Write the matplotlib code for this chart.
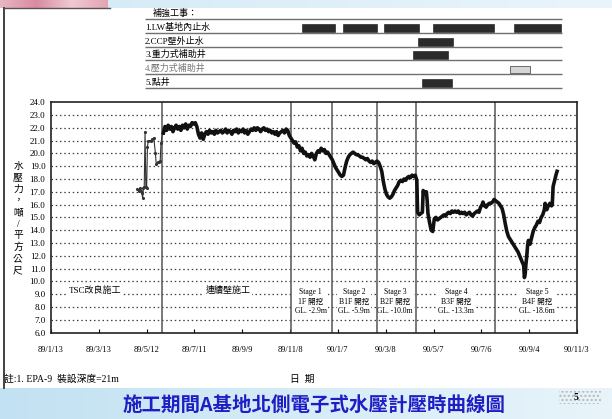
import numpy as np
import matplotlib.pyplot as plt
from matplotlib.patches import Rectangle

plt.rcParams['font.family'] = ['Liberation Serif', 'Noto Sans CJK TC']

# x axis is counted in days from 89/1/13
tick_days = list(range(0, 661, 60))
tick_labels = ['89/1/13', '89/3/13', '89/5/12', '89/7/11', '89/9/9', '89/11/8',
               '90/1/7', '90/3/8', '90/5/7', '90/7/6', '90/9/4', '90/11/3']

# first readings (sparse, during TSC work)
early_days = [108, 110, 112, 113, 114, 115, 116, 117, 118, 119, 120, 121, 122,
              125, 127, 129, 131, 132, 134, 136, 137, 138, 140]
early_p = [17.2, 17.1, 17.3, 17.1, 16.9, 16.5, 17.3, 17.4, 21.7, 17.4, 17.3, 20.5,
           21.0, 21.0, 21.1, 21.2, 20.0, 19.2, 19.3, 19.3, 19.4, 20.8, 21.6]

# continuous readings
days = [141, 143, 145, 147, 149, 151, 153, 155, 157, 159, 161, 163, 165, 167, 169,
        171, 173, 175, 177, 179, 181, 183, 185, 187, 189, 191, 193, 195, 197, 199,
        201, 203, 205, 207, 209, 211, 213, 215, 217, 219, 221, 223, 225, 227, 229,
        231, 233, 235, 237, 239, 241, 243, 245, 247, 249, 251, 253, 255, 257, 259,
        261, 263, 265, 267, 269, 271, 273, 275, 277, 279, 281, 283, 285, 287, 289,
        291, 293, 295, 297, 299, 301, 303, 305, 307, 309, 311, 313, 315, 317, 319,
        321, 323, 325, 327, 329, 331, 333, 335, 337, 339, 341, 343, 345, 347, 349,
        351, 353, 355, 357, 359, 361, 363, 365, 367, 369, 371, 373, 375, 377, 379,
        381, 383, 385, 387, 389, 391, 393, 395, 397, 399, 401, 403, 405, 407, 409,
        411, 413, 415, 417, 419, 421, 423, 425, 427, 429, 431, 433, 435, 437, 439,
        441, 443, 445, 447, 449, 451, 453, 455, 457, 459, 460, 462, 464, 466, 467,
        469, 471, 472, 473, 475, 477, 479, 481, 483, 485, 487, 489, 491, 493, 495,
        497, 499, 501, 503, 505, 507, 509, 511, 513, 515, 517, 519, 521, 523, 525,
        527, 529, 531, 533, 535, 537, 539, 541, 542, 544, 546, 548, 550, 552, 554,
        556, 558, 560, 562, 564, 566, 568, 570, 572, 574, 576, 578, 580, 582, 584,
        586, 588, 590, 592, 593, 594, 595, 596, 597, 598, 599, 600, 601, 603, 605,
        607, 609, 611, 613, 615, 617, 619, 620, 621, 622, 624, 626, 628, 629, 630,
        632, 634, 635]
pressure = [21.6, 22.1, 21.8, 22.2, 21.9, 22.1, 21.7, 22.0, 22.2, 21.9, 22.1, 21.8,
            22.2, 22.0, 22.3, 21.9, 22.2, 22.1, 22.4, 22.3, 22.4, 22.1, 21.5, 21.2,
            21.6, 21.1, 21.5, 21.7, 21.5, 21.8, 21.6, 21.7, 21.5, 21.8, 21.6, 21.7,
            21.8, 21.6, 21.7, 21.9, 21.6, 21.8, 21.7, 21.5, 21.8, 21.7, 21.9, 21.6,
            21.8, 21.7, 21.9, 21.6, 21.8, 21.5, 21.7, 21.9, 21.8, 22.0, 21.8, 22.0,
            21.9, 21.7, 21.9, 22.0, 21.8, 21.9, 21.7, 21.8, 21.6, 21.7, 21.5, 21.7,
            21.4, 21.6, 21.7, 21.8, 21.6, 21.9, 21.8, 21.4, 21.2, 21.0, 20.8, 20.9,
            20.5, 20.6, 20.2, 20.4, 20.0, 20.1, 19.8, 19.9, 19.7, 20.0, 19.8, 19.5,
            20.0, 20.2, 20.1, 20.4, 20.2, 20.3, 20.0, 20.1, 19.9, 19.7, 19.5, 19.2,
            18.9, 18.7, 18.5, 18.3, 18.2, 18.3, 18.9, 19.4, 19.7, 19.9, 20.0, 20.1,
            20.0, 19.9, 19.9, 19.8, 19.7, 19.7, 19.6, 19.5, 19.6, 19.4, 19.3, 19.4,
            19.2, 19.3, 19.4, 19.3, 19.0, 18.6, 17.8, 17.2, 16.8, 16.6, 16.5, 16.6,
            16.8, 17.1, 17.3, 17.5, 17.8, 17.9, 17.8, 18.0, 17.9, 18.1, 18.2, 18.1,
            18.3, 18.2, 18.3, 17.9, 15.4, 15.2, 15.3, 15.4, 17.1, 16.9, 17.0, 16.3,
            15.3, 14.6, 14.0, 13.9, 14.9, 15.0, 14.8, 14.9, 15.0, 15.1, 15.2, 15.1,
            15.3, 15.4, 15.3, 15.5, 15.4, 15.5, 15.4, 15.5, 15.3, 15.4, 15.3, 15.4,
            15.2, 15.3, 15.4, 15.2, 15.1, 15.3, 15.4, 15.5, 15.4, 15.8, 16.0, 16.2,
            15.9, 15.8, 16.0, 16.1, 16.1, 16.2, 16.4, 16.3, 16.2, 16.1, 15.9, 15.7,
            15.2, 14.5, 13.9, 13.5, 13.3, 13.1, 12.9, 12.7, 12.5, 12.3, 12.0, 11.7,
            11.4, 11.3, 10.3, 10.6, 11.4, 12.0, 12.8, 13.2, 13.0, 12.9, 13.4, 13.9,
            14.2, 14.4, 14.7, 14.6, 15.0, 15.2, 15.6, 16.1, 15.8, 15.6, 15.9, 16.1,
            15.9, 16.0, 17.4, 17.9, 18.4, 18.6]

stage_lines = [139, 301, 353, 409, 458, 557]
stage_pos = [326, 380, 432, 508, 610]
stage_text = ['Stage 1\n1F 開挖\nGL. -2.9m',
              'Stage 2\nB1F 開挖\nGL. -5.9m',
              'Stage 3\nB2F 開挖\nGL. -10.0m',
              'Stage 4\nB3F 開挖\nGL. -13.3m',
              'Stage 5\nB4F 開挖\nGL. -18.6m']

works = ['1.LW基地內止水', '2.CCP壁外止水', '3.重力式補助井', '4.壓力式補助井', '5.點井']
work_spans = [[(315, 356), (366, 409), (418, 462), (479, 556), (581, 640)],
              [(460, 504)],
              [(454, 498)],
              [(576, 601)],
              [(466, 503)]]

W, H = 612, 419
fig = plt.figure(figsize=(W / 100, H / 100), dpi=100)
fig.patch.set_facecolor('white')

# background in pixel units
bg = fig.add_axes([0, 0, 1, 1], zorder=-5)
bg.set_xlim(0, W)
bg.set_ylim(H, 0)
bg.axis('off')
grad = np.linspace(0, 1, 256)[None, :]
top_cmap = plt.matplotlib.colors.LinearSegmentedColormap.from_list('t', ['#d3e9f5', '#eaf5fb'])
bg.imshow(grad, extent=(0, W, 8, 0), cmap=top_cmap, aspect='auto')
pink = plt.matplotlib.colors.LinearSegmentedColormap.from_list('p', ['#e9b7c3', '#d88c9f', '#f0c9d2', '#e2a4b3'])
bg.imshow(grad, extent=(0, 108, 8, 0), cmap=pink, aspect='auto')
bot_cmap = plt.matplotlib.colors.LinearSegmentedColormap.from_list('b', ['#c2e1f2', '#d6ecf7', '#e8f4fa'])
bg.imshow(grad, extent=(0, W, H, 388), cmap=bot_cmap, aspect='auto')
bg.plot([3.5, 3.5], [8, 388], color='#333333', lw=1.3)
bg.plot([3.5, 110], [8.5, 8.5], color='#555555', lw=1.0)

bg.text(314, 406, '施工期間A基地北側電子式水壓計壓時曲線圖', ha='center', va='center',
        fontsize=14, color='#1e1ec4', fontweight='bold', family=['Noto Sans CJK TC'])
bg.add_patch(Rectangle((559, 391), 42, 13, facecolor='none', edgecolor='#b8b8b8',
                       hatch='....', lw=0))
bg.text(576, 397.5, '5', ha='center', va='center', fontsize=7, fontweight='bold')

bg.text(4, 379, '註:1. EPA-9  裝設深度=21m', va='center', fontsize=7)
bg.text(290, 379, '日  期', va='center', fontsize=7)

ylab = ['水', '壓', '力', '，', '噸', '/', '平', '方', '公', '尺']
for i, ch in enumerate(ylab):
    bg.text(18, 166 + i * 11.6, ch, ha='center', va='center', fontsize=7)

# main chart
ax = fig.add_axes([51 / W, (H - 332.6) / H, 526 / W, 230.4 / H])
ax.set_xlim(0, 660)
ax.set_ylim(6, 24)
for v in range(7, 24):
    ax.axhline(v, ls=(0, (1.2, 2.2)), color='#404040', lw=0.9, zorder=0.5)
for d in stage_lines:
    ax.axvline(d, color='#555555', lw=1.1, zorder=2)

ax.plot(early_days, early_p, color='#333333', lw=0.8, marker='.', ms=2.5, zorder=3)
ax.plot(days, pressure, color='#111111', lw=2.6, solid_joinstyle='round', zorder=3)

box = dict(facecolor='white', edgecolor='none', pad=1)
for d, txt in zip(stage_pos, stage_text):
    ax.text(d, 8.4, txt, ha='center', va='center', fontsize=5.5, linespacing=1.25,
            bbox=box, zorder=1)
ax.text(55, 9.25, 'TSC改良施工', ha='center', va='center', fontsize=6.5, bbox=box, zorder=1)
ax.text(222, 9.3, '連續壁施工', ha='center', va='center', fontsize=6.5, bbox=box, zorder=1)

ax.set_yticks(np.arange(6, 25, 1))
ax.set_yticklabels([f'{v:.1f}' for v in np.arange(6, 25, 1)], fontsize=6.5)
ax.set_xticks(tick_days)
ax.set_xticklabels(tick_labels, fontsize=6)
ax.tick_params(axis='y', direction='in', length=0, pad=4)
ax.tick_params(axis='x', direction='in', length=3, pad=10)
for s in ax.spines.values():
    s.set_linewidth(1.2)
    s.set_color('#222222')

# works table above the chart, same day scale
ta = fig.add_axes([51 / W, (H - 100) / H, 526 / W, 100 / H], zorder=-1)
ta.set_xlim(0, 660)
ta.set_ylim(100, 0)
ta.axis('off')
ta.text(128, 13, '補強工事：', va='center', fontsize=6.5)
ta.hlines([19, 33, 47, 60, 74, 88], 118, 641, color='#707070', lw=1.0)
row_y = [27, 41, 54, 68, 82]
for i, (name, spans) in enumerate(zip(works, work_spans)):
    ta.text(118, row_y[i], name, va='center', fontsize=6.5,
            color='#777777' if i == 3 else 'black')
    for s, e in spans:
        if i == 3:
            ta.add_patch(Rectangle((s, row_y[i] - 2), e - s, 7, facecolor='#d5d5d5',
                                   edgecolor='#555555', lw=0.6))
        else:
            ta.add_patch(Rectangle((s, row_y[i] - 2.5), e - s, 8, facecolor='#2b2b2b',
                                   edgecolor='#111111', lw=0.4))

fig.savefig('out.png', dpi=100)
